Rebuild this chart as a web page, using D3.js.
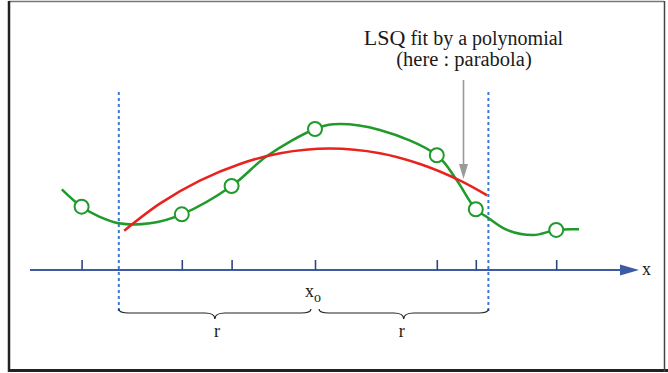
<!DOCTYPE html>
<html>
<head>
<meta charset="utf-8">
<script src="https://cdn.jsdelivr.net/npm/d3@7"></script>
<style>
  html, body { margin: 0; padding: 0; background: #fff; }
  svg { display: block; }
</style>
</head>
<body>
<svg id="chart" width="668" height="373"></svg>
<script>
// Sample points (x, y) that are marked with circles
const sampleX = [8.6, 25.3, 33.6, 47.5, 67.8, 74.3, 87.7];
const sampleY = [42.2, 37.1, 56.0, 94.0, 76.5, 40.5, 26.7];

// Smooth signal through the samples
const signalX = [5.3, 8.6, 11.7, 14.8, 20.0, 25.3, 33.6, 39.5, 47.5, 50.5, 58.3, 67.8, 71.1, 74.3, 76.1, 79.5, 83.9, 87.7, 91.5];
const signalY = [53.8, 42.2, 35.3, 31.1, 31.1, 37.1, 56.0, 76.0, 94.0, 97.1, 93.3, 76.5, 60.0, 40.5, 35.5, 26.7, 23.3, 26.7, 27.1];

// Least-squares parabola over the window [x0 - r, x0 + r]
const fitX = [15.7, 21.7, 28.3, 35.0, 41.7, 50.0, 58.3, 65.0, 71.7, 76.2];
const fitY = [26.2, 44.4, 59.6, 70.7, 77.9, 81.0, 77.9, 70.7, 59.6, 49.7];

// Window centre and edges
const windowCenter = 47.5;
const windowEdges = [14.8, 76.4];

// Tick positions on the x axis (one per sample)
const tickValues = sampleX;

const SERIF = "'Liberation Serif', 'Times New Roman', 'DejaVu Serif', serif";

const svg = d3.select("#chart")
  .attr("font-family", SERIF);

const x = d3.scaleLinear().domain([0, 100]).range([30, 630]);
const y = d3.scaleLinear().domain([0, 100]).range([270, 120]);

const GREEN = "#1f9a2b";
const RED = "#e8231f";
const AXIS_BLUE = "#3d5aa6";
const DASH_BLUE = "#3a78d2";
const INK = "#1a1a1a";

// Frame
svg.append("line").attr("x1", 9).attr("x2", 664).attr("y1", 1.5).attr("y2", 1.5)
  .attr("stroke", "#777").attr("stroke-width", 1.5);
svg.append("line").attr("x1", 9).attr("x2", 9).attr("y1", 1).attr("y2", 372)
  .attr("stroke", "#222").attr("stroke-width", 2.5);
svg.append("line").attr("x1", 8).attr("x2", 668).attr("y1", 370.5).attr("y2", 370.5)
  .attr("stroke", "#222").attr("stroke-width", 3);
svg.append("line").attr("x1", 664.5).attr("x2", 664.5).attr("y1", 1).attr("y2", 372)
  .attr("stroke", "#444").attr("stroke-width", 1.5);

// Window edges (dashed verticals)
svg.selectAll(".edge").data(windowEdges).join("line")
  .attr("class", "edge")
  .attr("x1", d => x(d)).attr("x2", d => x(d))
  .attr("y1", 92).attr("y2", 314)
  .attr("stroke", DASH_BLUE).attr("stroke-width", 2)
  .attr("stroke-dasharray", "3,3");

// x axis: line + arrowhead + ticks
svg.append("line")
  .attr("x1", 30).attr("x2", 624).attr("y1", y(0)).attr("y2", y(0))
  .attr("stroke", AXIS_BLUE).attr("stroke-width", 2);
svg.append("path")
  .attr("d", `M620,${y(0) - 5.5} L639,${y(0)} L620,${y(0) + 5.5} Z`)
  .attr("fill", AXIS_BLUE);

const axis = d3.axisTop(x).tickValues(tickValues).tickSize(10).tickFormat("");
const gAxis = svg.append("g").attr("transform", `translate(0,${y(0)})`).call(axis);
gAxis.select(".domain").remove();
gAxis.selectAll(".tick line").attr("stroke", "#2e467f").attr("stroke-width", 1.6);

svg.append("text").attr("x", 642).attr("y", y(0) + 5)
  .attr("font-family", SERIF).attr("fill", INK)
  .attr("font-size", 18).text("x");

// Signal curve
const line = d3.line().x(d => x(d[0])).y(d => y(d[1])).curve(d3.curveCatmullRom.alpha(0.5));
svg.append("path")
  .datum(d3.zip(signalX, signalY))
  .attr("d", line)
  .attr("fill", "none").attr("stroke", GREEN).attr("stroke-width", 2.5);

// Fitted parabola
svg.append("path")
  .datum(d3.zip(fitX, fitY))
  .attr("d", line)
  .attr("fill", "none").attr("stroke", RED).attr("stroke-width", 2.5);

// Samples
svg.selectAll(".sample").data(d3.zip(sampleX, sampleY)).join("circle")
  .attr("class", "sample")
  .attr("cx", d => x(d[0])).attr("cy", d => y(d[1])).attr("r", 7)
  .attr("fill", "#fff").attr("stroke", GREEN).attr("stroke-width", 2);

// Annotation with pointer
const note = svg.append("text").attr("x", 463.5).attr("y", 45)
  .attr("text-anchor", "middle").attr("font-family", SERIF).attr("fill", INK);
note.append("tspan").attr("font-size", 22).text("LSQ");
note.append("tspan").attr("font-size", 20).text(" fit by a polynomial");
svg.append("text").attr("x", 464).attr("y", 66).attr("text-anchor", "middle")
  .attr("font-family", SERIF).attr("fill", INK)
  .attr("font-size", 20.5).text("(here : parabola)");

svg.append("line").attr("x1", 463.5).attr("x2", 463.5).attr("y1", 80).attr("y2", 166)
  .attr("stroke", "#9a9a9a").attr("stroke-width", 1.6);
svg.append("path").attr("d", "M459,164 L468,164 L463.5,179 Z").attr("fill", "#9a9a9a");

// x0 label
const xl = svg.append("text").attr("x", x(windowCenter) - 10).attr("y", 297)
  .attr("font-family", SERIF).attr("fill", INK).attr("font-size", 18);
xl.append("tspan").text("x");
xl.append("tspan").attr("font-size", 14).attr("dy", 5).text("o");

// Braces spanning r on each side
function brace(x1, x2, yb) {
  const h = 6, m = (x1 + x2) / 2;
  return `M${x1},${yb - 4} Q${x1},${yb} ${x1 + 10},${yb} L${m - 10},${yb} Q${m},${yb} ${m},${yb + h}` +
         ` Q${m},${yb} ${m + 10},${yb} L${x2 - 10},${yb} Q${x2},${yb} ${x2},${yb - 4}`;
}
const gap = 4;
const braceSpans = [[windowEdges[0], windowCenter], [windowCenter, windowEdges[1]]];
svg.selectAll(".brace").data(braceSpans).join("path")
  .attr("class", "brace")
  .attr("d", (d, i) => brace(x(d[0]) + (i ? gap : 0), x(d[1]) - (i ? 0 : gap), 313))
  .attr("fill", "none").attr("stroke", "#222").attr("stroke-width", 1.2);
svg.selectAll(".rlab").data(braceSpans).join("text")
  .attr("class", "rlab")
  .attr("x", d => (x(d[0]) + x(d[1])) / 2).attr("y", 337)
  .attr("text-anchor", "middle").attr("font-family", SERIF).attr("fill", INK)
  .attr("font-size", 18).text("r");
</script>
</body>
</html>
